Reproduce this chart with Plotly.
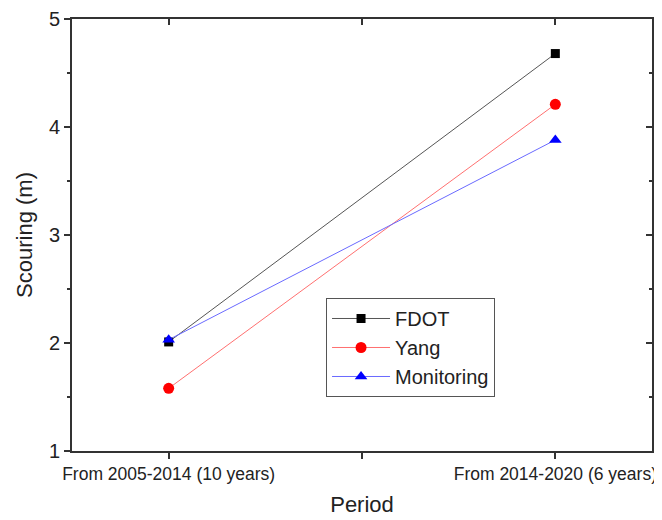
import plotly.graph_objects as go

periods = ["From 2005-2014 (10 years)", "From 2014-2020 (6 years)"]
period_pos = [0, 1]
fdot = [2.01, 4.68]
yang = [1.58, 4.21]
monitoring = [2.03, 3.88]

font = "Liberation Sans, Arial, sans-serif"
axcol = "#333333"

fig = go.Figure()
fig.add_trace(go.Scatter(x=period_pos, y=fdot, name="FDOT", mode="lines+markers",
                         line=dict(color="#555555", width=1),
                         marker=dict(symbol="square", size=9, color="black")))
fig.add_trace(go.Scatter(x=period_pos, y=yang, name="Yang", mode="lines+markers",
                         line=dict(color="#ff7070", width=1),
                         marker=dict(symbol="circle", size=11, color="red")))
fig.add_trace(go.Scatter(x=period_pos, y=monitoring, name="Monitoring", mode="lines+markers",
                         line=dict(color="#6a6aff", width=1),
                         marker=dict(symbol="triangle-up", size=11, color="blue")))
# invisible trace to activate secondary axes for inward mirrored ticks
fig.add_trace(go.Scatter(x=[None], y=[None], xaxis="x2", yaxis="y2", showlegend=False, hoverinfo="skip"))

# page body has an 8px default margin, so the figure is 8px smaller and offsets reduced
fig.update_layout(
    width=654, height=512,
    margin=dict(l=64, r=10, t=11, b=69),
    plot_bgcolor="white", paper_bgcolor="white",
    font=dict(family=font, color="#222222"),
    xaxis=dict(range=[-0.25, 1.25], tickvals=[0, 0.5, 1], ticktext=[periods[0], "", periods[1]],
               ticks="outside", ticklen=6, tickwidth=1.5, tickcolor=axcol, automargin=False,
               ticklabeloverflow="allow",
               showline=True, linecolor=axcol, linewidth=2, showgrid=False, zeroline=False,
               tickfont=dict(size=17.5, family=font, color="#222222"),
               title=dict(text="Period", font=dict(size=22, family=font), standoff=14)),
    yaxis=dict(range=[1, 5], tickvals=[1, 2, 3, 4, 5],
               ticks="outside", ticklen=6, tickwidth=1.5, tickcolor=axcol, automargin=False,
               minor=dict(dtick=0.5, ticks="outside", ticklen=3, tickwidth=1.5, tickcolor=axcol),
               showline=True, linecolor=axcol, linewidth=2, showgrid=False, zeroline=False,
               tickfont=dict(size=20, family=font, color="#222222"),
               title=dict(text="Scouring (m)", font=dict(size=22, family=font), standoff=10)),
    xaxis2=dict(overlaying="x", side="top", range=[-0.25, 1.25], tickvals=[0, 0.5, 1],
                showticklabels=False, ticks="inside", ticklen=6, tickwidth=1.5, tickcolor=axcol,
                automargin=False,
                showline=True, linecolor=axcol, linewidth=2, showgrid=False, zeroline=False),
    yaxis2=dict(overlaying="y", side="right", range=[1, 5], tickvals=[1, 2, 3, 4, 5],
                showticklabels=False, ticks="inside", ticklen=6, tickwidth=1.5, tickcolor=axcol,
                automargin=False,
                minor=dict(dtick=0.5, ticks="inside", ticklen=3, tickwidth=1.5, tickcolor=axcol),
                showline=True, linecolor=axcol, linewidth=2, showgrid=False, zeroline=False),
    legend=dict(x=0.438, y=0.2396, xanchor="left", yanchor="middle",
                bordercolor="#555555", borderwidth=1, bgcolor="white",
                font=dict(size=20, family=font, color="#222222"),
                tracegroupgap=0, itemwidth=58),
    showlegend=True,
)

fig.write_html("out.html")
